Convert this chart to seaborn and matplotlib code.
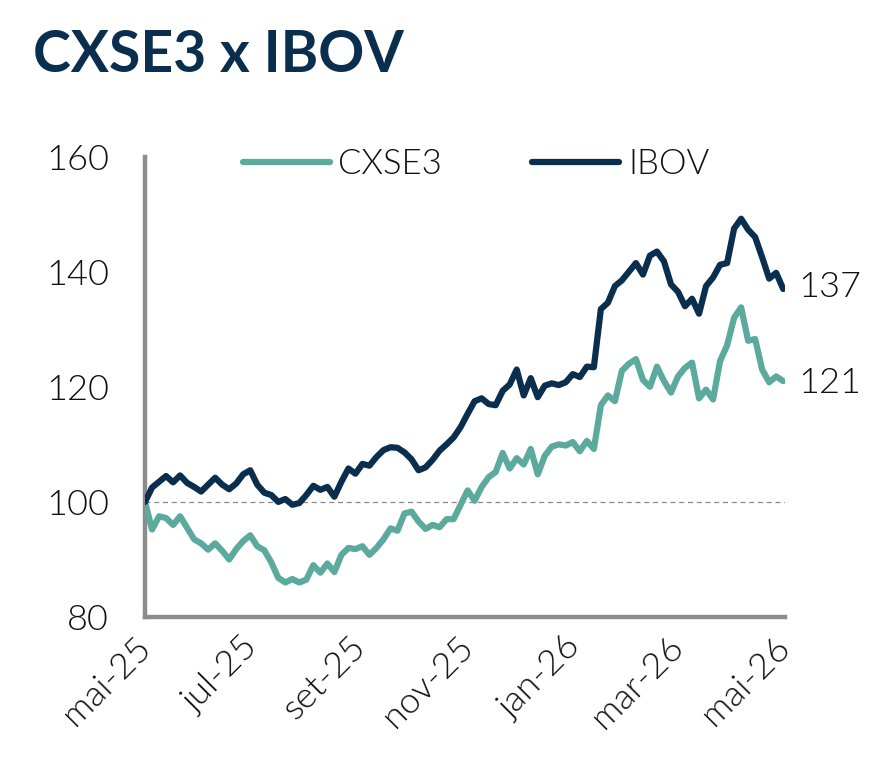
import pandas as pd
import seaborn as sns
import matplotlib.pyplot as plt

# Séries normalizadas (base 100 em mai-25), um ponto a cada 4 dias
datas = pd.date_range("2025-05-01", "2026-04-30", freq="4D")

cxse3 = [
    100.0, 95.2, 97.5, 97.2, 96.0, 97.5, 95.5, 93.5, 92.8, 91.7,
    92.8, 91.5, 90.0, 91.8, 93.2, 94.2, 92.3, 91.6, 89.5, 86.8,
    86.0, 86.6, 86.0, 86.5, 89.0, 87.7, 89.3, 87.8, 90.8, 92.0,
    91.8, 92.3, 90.8, 92.0, 93.5, 95.4, 95.0, 98.0, 98.3, 96.6,
    95.3, 96.0, 95.6, 97.0, 97.0, 99.5, 102.0, 100.2, 102.6, 104.3,
    105.2, 108.5, 105.8, 107.6, 106.5, 109.2, 104.8, 108.0, 109.6, 110.0,
    109.8, 110.4, 108.8, 110.6, 109.2, 116.8, 118.5, 117.5, 122.8, 124.0,
    124.8, 121.2, 120.0, 123.5, 121.0, 119.0, 121.8, 123.3, 124.2, 118.0,
    119.5, 117.8, 124.5, 127.2, 132.0, 133.8, 128.0, 128.3, 123.0, 120.8,
    121.8, 121.0,
]

ibov = [
    100.0, 102.5, 103.5, 104.5, 103.4, 104.6, 103.3, 102.6, 101.8, 103.0,
    104.2, 103.0, 102.2, 103.2, 104.8, 105.5, 103.0, 101.6, 101.2, 100.0,
    100.5, 99.5, 99.8, 101.2, 102.8, 102.1, 102.6, 100.9, 103.5, 105.8,
    104.9, 106.6, 106.3, 107.8, 109.0, 109.5, 109.4, 108.6, 107.4, 105.5,
    106.0, 107.3, 108.9, 110.0, 111.2, 113.0, 115.3, 117.5, 118.0, 117.0,
    116.8, 119.3, 120.4, 123.0, 118.5, 121.5, 118.2, 120.2, 120.6, 120.3,
    120.8, 122.2, 121.7, 123.5, 123.4, 133.5, 134.6, 137.5, 138.5, 140.0,
    141.5, 139.5, 142.8, 143.5, 141.8, 137.8, 136.5, 134.0, 135.3, 132.7,
    137.5, 139.0, 141.2, 141.5, 147.5, 149.2, 147.3, 146.0, 142.5, 138.8,
    139.8, 137.0,
]

series = ["CXSE3", "IBOV"]
cores = ["#5BAA9D", "#0A2E4D"]
tick_datas = ["2025-05-01", "2025-07-01", "2025-09-01", "2025-11-01",
              "2026-01-01", "2026-03-01", "2026-05-01"]
tick_labels = ["mai-25", "jul-25", "set-25", "nov-25", "jan-26", "mar-26", "mai-26"]

df = pd.concat([
    pd.DataFrame({"data": datas, "valor": cxse3, "serie": "CXSE3"}),
    pd.DataFrame({"data": datas, "valor": ibov, "serie": "IBOV"}),
])

sns.set_style("white")
plt.rcParams["font.family"] = ["Lato", "DejaVu Sans"]

fig = plt.figure(figsize=(8.79, 7.83), dpi=100)
ax = fig.add_axes([0.165, 0.212, 0.728, 0.588])

ax.axhline(100, color="#8a8a8a", lw=0.9, ls=(0, (4, 3)), zorder=1)
sns.lineplot(data=df, x="data", y="valor", hue="serie", hue_order=series,
             palette=cores, linewidth=4.5, ax=ax, zorder=3)

ax.set_ylim(80, 160)
ax.set_yticks([80, 100, 120, 140, 160])
ax.set_xlim(pd.Timestamp("2025-05-01"), pd.Timestamp("2026-05-01"))
ax.set_xticks(pd.to_datetime(tick_datas))
ax.set_xticklabels(tick_labels, rotation=45, ha="right", va="center",
                   rotation_mode="anchor")
ax.set_xlabel("")
ax.set_ylabel("")

for s in ["top", "right"]:
    ax.spines[s].set_visible(False)
for s in ["left", "bottom"]:
    ax.spines[s].set_color("#8c8c8c")
    ax.spines[s].set_linewidth(3.2)

ax.tick_params(axis="y", length=0, pad=26, labelsize=26, labelcolor="#111111")
ax.tick_params(axis="x", length=0, pad=18, labelsize=26, labelcolor="#111111")
for lab in ax.get_xticklabels() + ax.get_yticklabels():
    lab.set_fontweight(300)

# rótulos do último valor
trans = ax.get_yaxis_transform()
ax.text(1.12, ibov[-1] + 0.4, f"{ibov[-1]:.0f}", transform=trans, ha="right",
        va="center", fontsize=26, fontweight=300, color="#111111")
ax.text(1.12, cxse3[-1] - 0.3, f"{cxse3[-1]:.0f}", transform=trans, ha="right",
        va="center", fontsize=26, fontweight=300, color="#111111")

leg = ax.legend(loc="center left", bbox_to_anchor=(0.153, 0.983), ncol=2,
                frameon=False, fontsize=25, handlelength=2.5, handletextpad=0.25,
                columnspacing=2.6, borderpad=0, borderaxespad=0)
for h in leg.get_lines():
    h.set_linewidth(4.5)
for t in leg.get_texts():
    t.set_fontweight(300)
    t.set_color("#111111")

fig.text(0.038, 0.908, "CXSE3 x IBOV", fontsize=41, fontweight="bold",
         color="#0A2E4D", va="baseline", ha="left")

fig.savefig("out.png", dpi=100)
